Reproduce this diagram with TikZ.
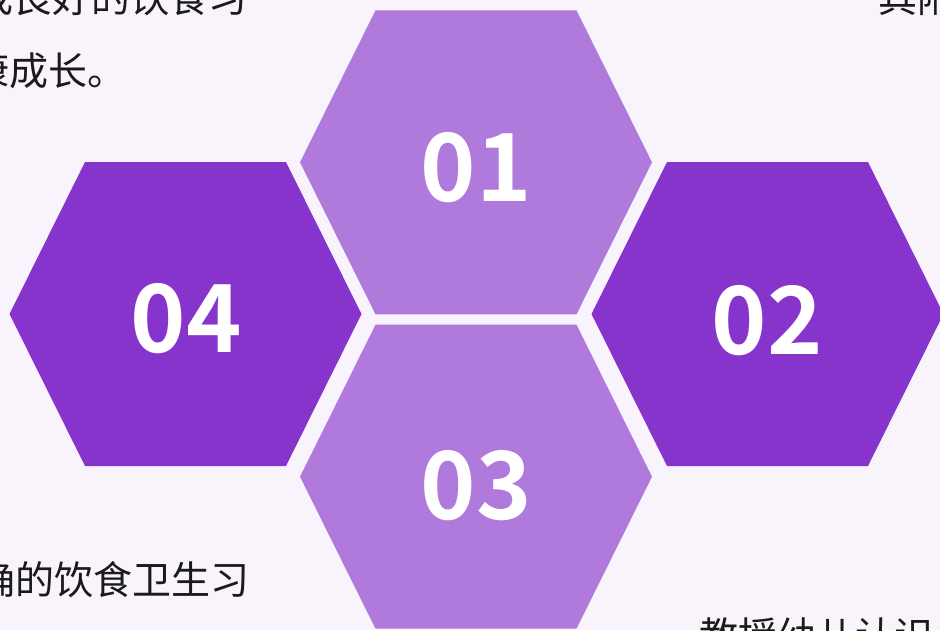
\documentclass[tikz,border=0pt]{standalone}
\usepackage{fontspec}
\newfontfamily\cjk{Noto Sans CJK SC}
\newfontfamily\cjkbold{Noto Sans CJK SC Bold}
\definecolor{bgc}{HTML}{F9F4FB}
\definecolor{darkp}{HTML}{8734CC}
\definecolor{lightp}{HTML}{B07ADD}
\definecolor{txt}{HTML}{1A1A1A}
\tikzset{
  numlabel/.style={text=white, font=\cjkbold\fontsize{94}{94}\selectfont, inner sep=0pt},
  bodytext/.style={text=txt, font=\cjk\fontsize{39}{39}\selectfont, inner sep=0pt},
  hexfill/.style={fill=#1, draw=none}
}
\newcommand{\hexat}[3]{% cx, cy, colour
  \fill[hexfill=#3] (#1-176,#2) -- (#1-100.5,#2-152) -- (#1+100.5,#2-152) -- (#1+176,#2) -- (#1+100.5,#2+152) -- (#1-100.5,#2+152) -- cycle;
}
\begin{document}
\begin{tikzpicture}[x=1pt,y=-1pt]
\useasboundingbox (0,0) rectangle (940,630);
\fill[bgc] (0,0) rectangle (940,630);
\clip (0,0) rectangle (940,630);
% hexagons
\hexat{476}{162.3}{lightp}
\hexat{767.5}{314}{darkp}
\hexat{476}{476.7}{lightp}
\hexat{185.5}{314}{darkp}
% numbers
\node[numlabel] (n01) at (476,168) {01};
\node[numlabel] (n02) at (767,321) {02};
\node[numlabel] (n03) at (476,486) {03};
\node[numlabel] (n04) at (186,319) {04};
% texts
\node[bodytext, anchor=base east] (tl1) at (248,12) {养成良好的饮食习};
\node[bodytext, anchor=base east] (tl2) at (127,85) {健康成长。};
\node[bodytext, anchor=base east] (bl1) at (250,594) {正确的饮食卫生习};
\node[bodytext, anchor=base west] (br1) at (699,650) {教授幼儿认识};
\node[bodytext, anchor=base west] (tr1) at (878,12) {其附};
\end{tikzpicture}
\end{document}
